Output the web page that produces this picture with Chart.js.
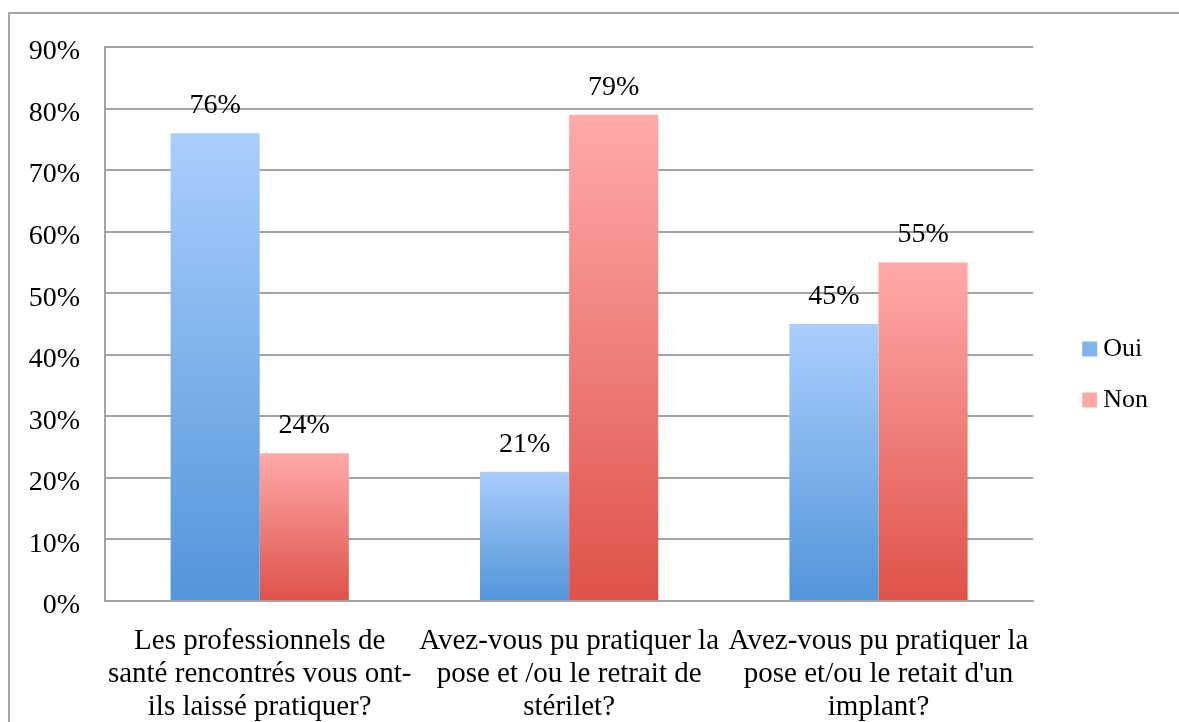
<!DOCTYPE html>
<html>
<head>
<meta charset="utf-8">
<script src="https://cdn.jsdelivr.net/npm/chart.js@4.4.0/dist/chart.umd.min.js"></script>
<style>
    html, body { margin: 0; padding: 0; background: #fff; overflow: hidden; }
    #frame { position: absolute; left: 8px; top: 12px; width: 1200px; height: 760px; border: 2px solid #a6a6a6; }
    #chart-container { position: absolute; left: 0; top: 0; width: 1179px; height: 722px; }
</style>
</head>
<body>
<div id="frame"></div>
<div id="chart-container"><canvas id="chart"></canvas></div>
<script>
const categories = [
    ["Les professionnels de", "santé rencontrés vous ont-", "ils laissé pratiquer?"],
    ["Avez-vous pu pratiquer la", "pose et /ou le retrait de", "stérilet?"],
    ["Avez-vous pu pratiquer la", "pose et/ou le retait d'un", "implant?"]
];
const seriesNames = ["Oui", "Non"];
const ouiValues = [76, 21, 45];
const nonValues = [24, 79, 55];
const yTicks = [0, 10, 20, 30, 40, 50, 60, 70, 80, 90];

const fontFamily = "'Liberation Serif', 'Times New Roman', serif";
const gridColor = "#a3a3a3";

// Excel style fill: light at the top of each bar, darker at its base
const barGradient = (topColor, bottomColor) => context => {
    const chart = context.chart;
    if (context.type !== "data" || !chart.chartArea) return bottomColor;
    const y = chart.scales.y;
    const gradient = chart.ctx.createLinearGradient(0, y.getPixelForValue(context.raw), 0, y.getPixelForValue(0));
    gradient.addColorStop(0, topColor);
    gradient.addColorStop(1, bottomColor);
    return gradient;
};

// Draws the value above every bar
const valueLabels = {
    id: "valueLabels",
    afterDatasetsDraw(chart) {
        const ctx = chart.ctx;
        ctx.save();
        ctx.font = "28px " + fontFamily;
        ctx.fillStyle = "#000";
        ctx.textAlign = "center";
        ctx.textBaseline = "alphabetic";
        chart.data.datasets.forEach((dataset, i) => {
            chart.getDatasetMeta(i).data.forEach((bar, j) => {
                ctx.fillText(dataset.data[j] + "%", bar.x, bar.y - 20);
            });
        });
        ctx.restore();
    }
};

// Empty axis used only as spacing in the layout
const spacer = (position, size) => ({
    type: "linear",
    position: position,
    grid: { display: false },
    border: { display: false },
    ticks: { display: false },
    afterFit: scale => {
        if (scale.isHorizontal()) scale.height = size;
        else scale.width = size;
    }
});

new Chart(document.getElementById("chart"), {
    type: "bar",
    data: {
        labels: categories,
        datasets: [
            {
                label: seriesNames[0],
                data: ouiValues,
                backgroundColor: barGradient("#aacefd", "#5295d9")
            },
            {
                label: seriesNames[1],
                data: nonValues,
                backgroundColor: barGradient("#ffaaa9", "#de5249")
            }
        ]
    },
    options: {
        responsive: true,
        maintainAspectRatio: false,
        animation: false,
        layout: { padding: { top: 27, left: 0, right: 21, bottom: 0 } },
        datasets: {
            bar: { categoryPercentage: 0.576, barPercentage: 1 }
        },
        scales: {
            x: {
                grid: { display: false },
                border: { color: gridColor, width: 2 },
                ticks: {
                    color: "#000",
                    font: { family: fontFamily, size: 29, lineHeight: 1.14 },
                    padding: 16,
                    maxRotation: 0,
                    autoSkip: false
                },
                afterFit: scale => { scale.height = 121; }
            },
            y: {
                min: 0,
                max: 90,
                afterBuildTicks: scale => { scale.ticks = yTicks.map(value => ({ value })); },
                grid: { color: gridColor, lineWidth: 2, drawTicks: false },
                border: { color: gridColor, width: 2 },
                ticks: {
                    color: "#000",
                    font: { family: fontFamily, size: 28 },
                    padding: 25,
                    labelOffset: 5,
                    callback: value => value + "%"
                },
                afterFit: scale => { scale.width = 105; }
            },
            topGap: spacer("top", 20),
            rightGap: spacer("right", 31)
        },
        plugins: {
            legend: {
                position: "right",
                labels: {
                    color: "#000",
                    font: { family: fontFamily, size: 26 },
                    usePointStyle: true,
                    pointStyle: "rect",
                    boxWidth: 1,
                    boxHeight: 15,
                    padding: 25
                }
            },
            tooltip: { enabled: false }
        }
    },
    plugins: [valueLabels]
});
</script>
</body>
</html>
